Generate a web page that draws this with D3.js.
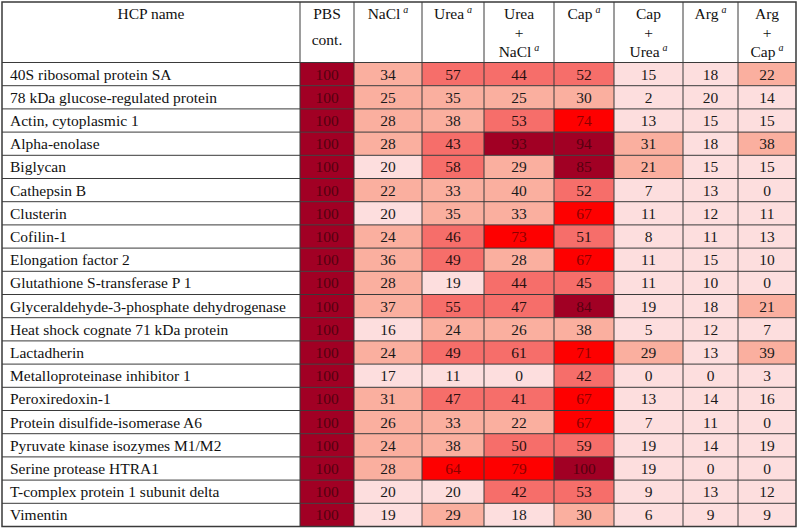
<!DOCTYPE html>
<html>
<head>
<meta charset="utf-8">
<script src="https://cdn.jsdelivr.net/npm/d3@7"></script>
<style>
  html, body { margin: 0; padding: 0; background: #fff; }
  svg { display: block; }
  text { font-family: "Liberation Serif", "DejaVu Serif", serif; }
</style>
</head>
<body>
<svg id="chart" width="800" height="532"></svg>
<script>
// ---------- data ----------
const proteins = [
  "40S ribosomal protein SA",
  "78 kDa glucose-regulated protein",
  "Actin, cytoplasmic 1",
  "Alpha-enolase",
  "Biglycan",
  "Cathepsin B",
  "Clusterin",
  "Cofilin-1",
  "Elongation factor 2",
  "Glutathione S-transferase P 1",
  "Glyceraldehyde-3-phosphate dehydrogenase",
  "Heat shock cognate 71 kDa protein",
  "Lactadherin",
  "Metalloproteinase inhibitor 1",
  "Peroxiredoxin-1",
  "Protein disulfide-isomerase A6",
  "Pyruvate kinase isozymes M1/M2",
  "Serine protease HTRA1",
  "T-complex protein 1 subunit delta",
  "Vimentin"
];

const conditions = ["PBS", "NaCl", "Urea", "UreaNaCl", "Cap", "CapUrea", "Arg", "ArgCap"];
// header text lines; a trailing "^a" marks the superscript footnote
const headerLines = [
  ["PBS", "cont."],
  ["NaCl^a"],
  ["Urea^a"],
  ["Urea", "+", "NaCl^a"],
  ["Cap^a"],
  ["Cap", "+", "Urea^a"],
  ["Arg^a"],
  ["Arg", "+", "Cap^a"]
];
const nameHeader = "HCP name";

const PBS      = [100,100,100,100,100,100,100,100,100,100,100,100,100,100,100,100,100,100,100,100];
const NaCl     = [34,25,28,28,20,22,20,24,36,28,37,16,24,17,31,26,24,28,20,19];
const Urea     = [57,35,38,43,58,33,35,46,49,19,55,24,49,11,47,33,38,64,20,29];
const UreaNaCl = [44,25,53,93,29,40,33,73,28,44,47,26,61,0,41,22,50,79,42,18];
const Cap      = [52,30,74,94,85,52,67,51,67,45,84,38,71,42,67,67,59,100,53,30];
const CapUrea  = [15,2,13,31,21,7,11,8,11,11,19,5,29,0,13,7,19,19,9,6];
const Arg      = [18,20,15,18,15,13,12,11,15,10,18,12,13,0,14,11,14,0,13,9];
const ArgCap   = [22,14,15,38,15,0,11,13,10,0,21,7,39,3,16,0,19,0,12,9];

const seriesValues = { PBS, NaCl, Urea, UreaNaCl, Cap, CapUrea, Arg, ArgCap };

// colour bins
const binBreaks = [21, 41, 62, 81];
const binColors = ["#fddede", "#faaf9f", "#f66e6a", "#fe0000", "#a10024"];
const binText   = ["#1a1a1a", "#1a1a1a", "#2a1010", "#8c0000", "#55000f"];

// ---------- layout ----------
const tableLeft = 2, tableRight = 796, tableTop = 2, headerBottom = 62.5, tableBottom = 526.5;
const colEdges = [300, 354, 422, 484, 554, 614, 683, 738, 796]; // condition column edges
const fontSize = 15.5;

const svg = d3.select("#chart");

// scales
const y = d3.scaleBand().domain(proteins).range([headerBottom, tableBottom]).paddingInner(0).paddingOuter(0);
const xLeft = d3.scaleOrdinal().domain(conditions).range(colEdges.slice(0, -1));
const xRight = d3.scaleOrdinal().domain(conditions).range(colEdges.slice(1));
const color = d3.scaleThreshold().domain(binBreaks).range(binColors);
const textColor = d3.scaleThreshold().domain(binBreaks).range(binText);

// cells
const cells = [];
conditions.forEach(c => {
  seriesValues[c].forEach((v, i) => cells.push({ cond: c, protein: proteins[i], value: v }));
});

const gCells = svg.append("g");
gCells.selectAll("rect")
  .data(cells)
  .join("rect")
  .attr("x", d => xLeft(d.cond))
  .attr("y", d => y(d.protein))
  .attr("width", d => xRight(d.cond) - xLeft(d.cond))
  .attr("height", y.bandwidth())
  .attr("fill", d => color(d.value));

gCells.selectAll("text")
  .data(cells)
  .join("text")
  .attr("x", d => (xLeft(d.cond) + xRight(d.cond)) / 2)
  .attr("y", d => y(d.protein) + y.bandwidth() / 2 + 5.5)
  .attr("text-anchor", "middle")
  .attr("font-size", fontSize)
  .attr("fill", d => textColor(d.value))
  .text(d => d.value);

// protein names
svg.append("g").selectAll("text")
  .data(proteins)
  .join("text")
  .attr("x", 10)
  .attr("y", d => y(d) + y.bandwidth() / 2 + 5.5)
  .attr("font-size", fontSize)
  .attr("fill", "#111")
  .text(d => d);

// headers
const gHead = svg.append("g");
gHead.append("text")
  .attr("x", (tableLeft + colEdges[0]) / 2)
  .attr("y", 19)
  .attr("text-anchor", "middle")
  .attr("font-size", fontSize)
  .attr("fill", "#111")
  .text(nameHeader);

const twoLineBase = [19, 45];
const threeLineBase = [19, 38, 57];
conditions.forEach((c, ci) => {
  const lines = headerLines[ci];
  const bases = lines.length === 2 ? twoLineBase : threeLineBase;
  const cx = (xLeft(c) + xRight(c)) / 2;
  lines.forEach((ln, li) => {
    const sup = ln.endsWith("^a");
    const label = sup ? ln.slice(0, -2) : ln;
    const t = gHead.append("text")
      .attr("x", cx)
      .attr("y", bases[li])
      .attr("text-anchor", "middle")
      .attr("font-size", fontSize)
      .attr("fill", "#111");
    t.append("tspan").text(label);
    if (sup) {
      t.append("tspan")
        .attr("dx", 3)
        .attr("dy", -6)
        .attr("font-size", 10)
        .attr("font-style", "italic")
        .text("a");
    }
  });
});

// grid lines
const gGrid = svg.append("g").attr("stroke", "#3a3a3a").attr("stroke-width", 1).attr("fill", "none");
// horizontal
const hLines = [headerBottom].concat(proteins.map(p => y(p) + y.bandwidth()));
gGrid.selectAll("line.h")
  .data(hLines)
  .join("line")
  .attr("class", "h")
  .attr("x1", tableLeft).attr("x2", tableRight)
  .attr("y1", d => d).attr("y2", d => d);
// vertical
const vLines = [colEdges[0]].concat(conditions.map(c => xRight(c)).slice(0, -1));
gGrid.selectAll("line.v")
  .data(vLines)
  .join("line")
  .attr("class", "v")
  .attr("x1", d => d).attr("x2", d => d)
  .attr("y1", tableTop).attr("y2", tableBottom);
// outer border
gGrid.append("rect")
  .attr("x", tableLeft).attr("y", tableTop)
  .attr("width", tableRight - tableLeft)
  .attr("height", tableBottom - tableTop)
  .attr("stroke-width", 1.5);
</script>
</body>
</html>
